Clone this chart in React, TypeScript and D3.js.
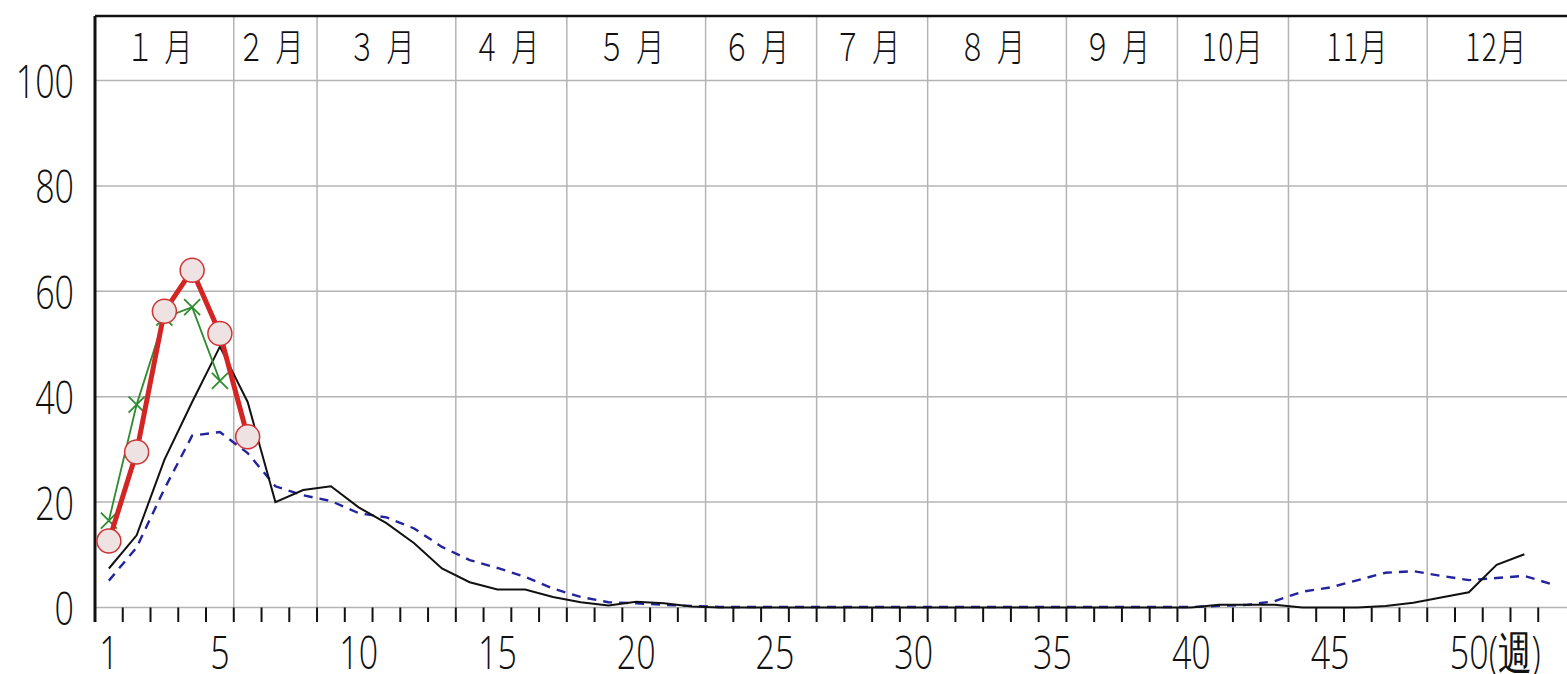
import * as d3 from 'd3';
import React, { useEffect, useRef } from 'react';

// current season (weeks 1-6)
const thisSeason = [12.6, 29.5, 56.2, 64.0, 52.0, 32.4];
// previous season (weeks 1-5)
const lastSeason = [16.5, 38.5, 55.0, 57.0, 43.0];
// black line, weeks 1-52
const blackSeries = [
  7.4, 13.7, 28.0, 39.0, 49.5, 39.0, 20.0, 22.3, 23.0, 19.0,
  16.0, 12.2, 7.4, 4.8, 3.4, 3.4, 2.0, 1.0, 0.4, 1.1,
  0.8, 0.2, 0, 0, 0, 0, 0, 0, 0, 0,
  0, 0, 0, 0, 0, 0, 0, 0, 0, 0,
  0.5, 0.5, 0.5, 0, 0, 0, 0.3, 0.9, 1.9, 2.9,
  8.1, 10.1,
];
// blue dashed line, weeks 1-53
const blueSeries = [
  5.1, 11.4, 22.5, 32.6, 33.3, 29.3, 23.0, 21.3, 20.2, 17.9,
  17.1, 15.0, 11.5, 9.0, 7.5, 5.8, 3.6, 2.0, 1.0, 0.8,
  0.5, 0.3, 0.1, 0.1, 0.1, 0.1, 0.1, 0.1, 0.1, 0.1,
  0.1, 0.1, 0.1, 0.1, 0.1, 0.1, 0.1, 0.1, 0.1, 0.1,
  0.3, 0.5, 1.2, 3.0, 3.8, 5.2, 6.6, 6.9, 6.0, 5.2,
  5.6, 6.0, 4.4,
];

const monthStarts = [0, 5, 8, 13, 17, 22, 26, 30, 35, 39, 43, 48, 53];
const monthLabels = ['１月', '２月', '３月', '４月', '５月', '６月', '７月', '８月', '９月', '10月', '11月', '12月'];
const yTicks = [0, 20, 40, 60, 80, 100];
const xLabelWeeks = [1, 5, 10, 15, 20, 25, 30, 35, 40, 45, 50];

const App = () => {
  const ref = useRef<SVGSVGElement>(null);

  useEffect(() => {
    const width = 1567;
    const height = 674;
    const svg = d3.select(ref.current);
    svg.selectAll('*').remove();

    const left = 95;
    const top = 16;
    const x = d3.scaleLinear().domain([0, 53]).range([left, 1566]);
    const y = d3.scaleLinear().domain([0, 100]).range([607.5, 80.5]);
    const squeeze = 0.74;
    const numFont = "'Open Sans', 'Liberation Sans', sans-serif";

    svg.append('rect').attr('width', width).attr('height', height).attr('fill', 'white');

    // horizontal grid
    svg.selectAll('.hgrid')
      .data(yTicks)
      .enter()
      .append('line')
      .attr('x1', left).attr('x2', width)
      .attr('y1', d => y(d)).attr('y2', d => y(d))
      .attr('stroke', '#b4b4b4')
      .attr('stroke-width', 1.5);

    // month boundaries
    svg.selectAll('.vgrid')
      .data(monthStarts.slice(1, -1))
      .enter()
      .append('line')
      .attr('x1', d => x(d)).attr('x2', d => x(d))
      .attr('y1', top).attr('y2', y(0))
      .attr('stroke', '#b4b4b4')
      .attr('stroke-width', 1.5);

    // frame
    svg.append('line')
      .attr('x1', left).attr('x2', width)
      .attr('y1', top).attr('y2', top)
      .attr('stroke', '#111').attr('stroke-width', 2.5);
    svg.append('line')
      .attr('x1', left).attr('x2', left)
      .attr('y1', top).attr('y2', 622)
      .attr('stroke', '#111').attr('stroke-width', 3);

    // week ticks
    svg.selectAll('.tick')
      .data(d3.range(0, 53))
      .enter()
      .append('line')
      .attr('x1', d => x(d)).attr('x2', d => x(d))
      .attr('y1', y(0)).attr('y2', 622)
      .attr('stroke', '#111').attr('stroke-width', 2);

    // month labels
    monthLabels.forEach((m, i) => {
      const cx = (x(monthStarts[i]) + x(monthStarts[i + 1])) / 2;
      const wide = m.length === 2;
      svg.append('text')
        .attr('transform', `translate(${cx},61) scale(${squeeze},1)`)
        .attr('text-anchor', 'middle')
        .attr('font-family', "'Noto Sans CJK JP', sans-serif")
        .attr('font-weight', 300)
        .attr('font-size', 38)
        .attr('letter-spacing', wide ? 14 : 2)
        .attr('fill', '#111')
        .text(m);
    });

    // y labels
    yTicks.forEach(t => {
      svg.append('text')
        .attr('transform', `translate(74,${y(t) + 17.5}) scale(${squeeze},1)`)
        .attr('text-anchor', 'end')
        .attr('font-family', numFont)
        .attr('font-weight', 300)
        .attr('font-size', 46)
        .attr('fill', '#111')
        .text(t);
    });

    // x labels
    xLabelWeeks.forEach(w => {
      const cx = x(w - 0.5);
      const last = w === 50;
      svg.append('text')
        .attr('transform', `translate(${last ? cx - 19 : cx},669) scale(${squeeze},1)`)
        .attr('text-anchor', last ? 'start' : 'middle')
        .attr('font-family', numFont)
        .attr('font-weight', 300)
        .attr('font-size', 46)
        .attr('fill', '#111')
        .text(last ? `${w}(週)` : w);
    });

    const line = d3.line<number>()
      .x((d, i) => x(i + 0.5))
      .y(d => y(d));

    svg.append('path')
      .attr('d', line(blueSeries))
      .attr('fill', 'none')
      .attr('stroke', '#23239e')
      .attr('stroke-width', 2.4)
      .attr('stroke-dasharray', '9,7');

    svg.append('path')
      .attr('d', line(blackSeries))
      .attr('fill', 'none')
      .attr('stroke', '#111')
      .attr('stroke-width', 2);

    svg.append('path')
      .attr('d', line(lastSeason))
      .attr('fill', 'none')
      .attr('stroke', '#2e8b2e')
      .attr('stroke-width', 1.8);

    lastSeason.forEach((v, i) => {
      const cx = x(i + 0.5);
      const cy = y(v);
      svg.append('path')
        .attr('d', `M${cx - 8},${cy - 8}L${cx + 8},${cy + 8}M${cx - 8},${cy + 8}L${cx + 8},${cy - 8}`)
        .attr('stroke', '#2e8b2e')
        .attr('stroke-width', 1.8);
    });

    svg.append('path')
      .attr('d', line(thisSeason))
      .attr('fill', 'none')
      .attr('stroke', '#d42525')
      .attr('stroke-width', 5)
      .attr('stroke-linejoin', 'round');

    svg.selectAll('.dot')
      .data(thisSeason)
      .enter()
      .append('circle')
      .attr('cx', (d, i) => x(i + 0.5))
      .attr('cy', d => y(d))
      .attr('r', 12)
      .attr('fill', '#eee2e2')
      .attr('stroke', '#cf3535')
      .attr('stroke-width', 1.5);
  }, []);

  return (
    <svg
      ref={ref}
      width={1567}
      height={674}
      style={{ position: 'absolute', left: 0, top: 0, display: 'block' }}
    />
  );
};

export default App;
